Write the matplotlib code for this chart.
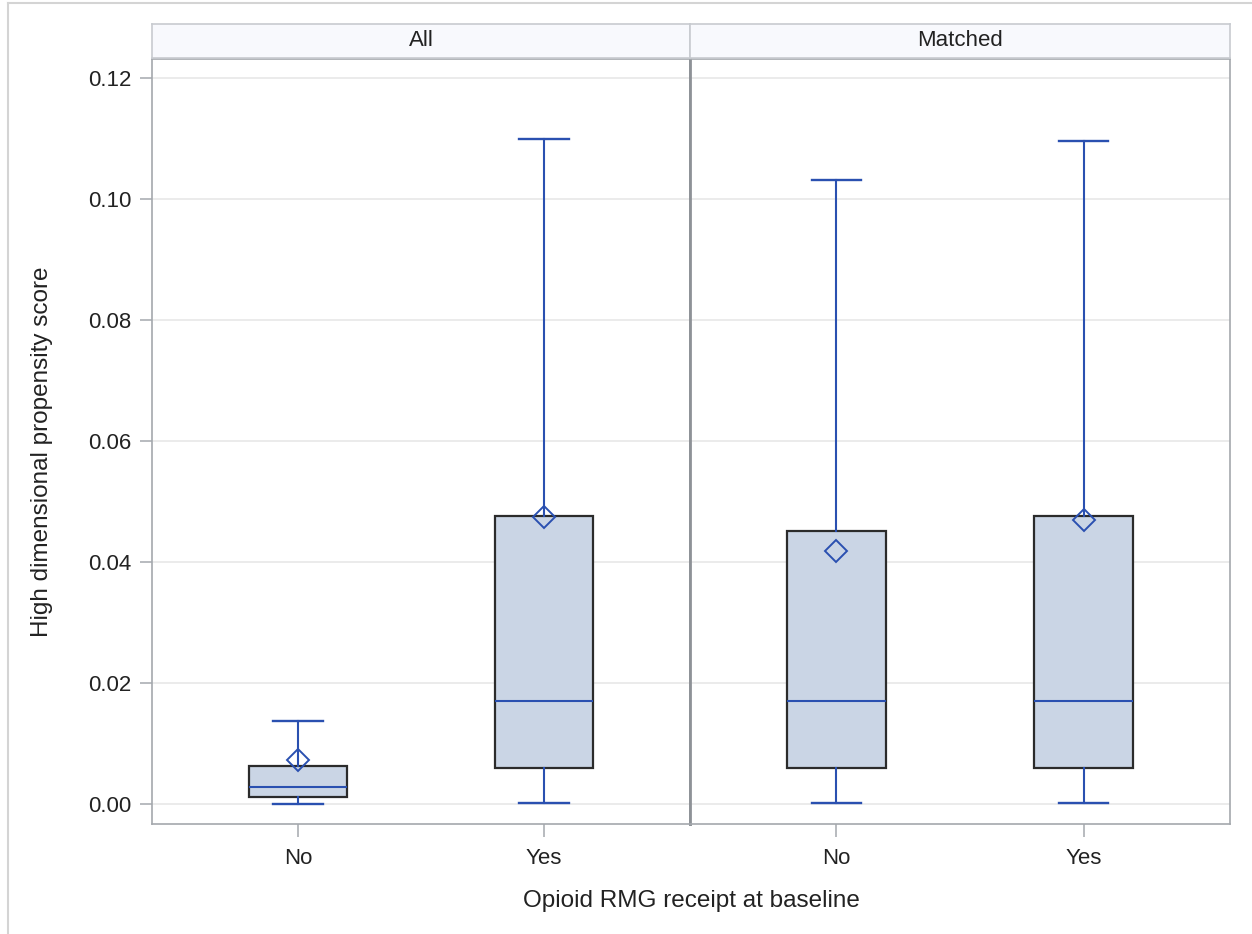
import matplotlib
matplotlib.use("Agg")
import matplotlib.pyplot as plt
from matplotlib.lines import Line2D

plt.rcParams['font.family'] = ['Liberation Sans', 'DejaVu Sans']

# box statistics per panel, categories No / Yes
panels = ["All", "Matched"]
categories = ["No", "Yes"]
q1 = {"All": [0.00116, 0.00600], "Matched": [0.00600, 0.00600]}
median = {"All": [0.00276, 0.01700], "Matched": [0.01700, 0.01700]}
q3 = {"All": [0.00620, 0.04760], "Matched": [0.04510, 0.04760]}
whisker_low = {"All": [0.00000, 0.00020], "Matched": [0.00020, 0.00020]}
whisker_high = {"All": [0.01370, 0.10990], "Matched": [0.10320, 0.10960]}
mean = {"All": [0.00730, 0.04740], "Matched": [0.04180, 0.04690]}
yticks = [0.00, 0.02, 0.04, 0.06, 0.08, 0.10, 0.12]

W, H = 1252, 934
fig = plt.figure(figsize=(W / 100, H / 100), dpi=100)

BLUE = "#2a50b0"
FILL = "#cad5e5"
FRAME = "#a4a8ad"
DIVIDER = "#8e9297"


def px_rect(x0, y0, x1, y1):
    return [x0 / W, 1 - y1 / H, (x1 - x0) / W, (y1 - y0) / H]


# outer frame of the graph
fig.add_artist(Line2D([8 / W, 8 / W], [0, 1 - 3 / H], color="#d4d4d4", lw=1.5))
fig.add_artist(Line2D([8 / W, 1], [1 - 3 / H, 1 - 3 / H], color="#d4d4d4", lw=1.5))

edges = [(152, 690), (690, 1230)]
axes = []
for i, name in enumerate(panels):
    x0, x1 = edges[i]
    ax = fig.add_axes(px_rect(x0, 59, x1, 824))
    axes.append(ax)

    stats = []
    for j, cat in enumerate(categories):
        stats.append(dict(med=median[name][j], q1=q1[name][j], q3=q3[name][j],
                          whislo=whisker_low[name][j], whishi=whisker_high[name][j],
                          mean=mean[name][j], fliers=[], label=cat))
    ax.bxp(stats, positions=[0, 1], widths=0.4, capwidths=0.2,
           showmeans=True, patch_artist=True, showfliers=False,
           boxprops=dict(facecolor=FILL, edgecolor="#2b2b2b", linewidth=1.6),
           medianprops=dict(color=BLUE, linewidth=1.5),
           whiskerprops=dict(color=BLUE, linewidth=1.5),
           capprops=dict(color=BLUE, linewidth=1.7),
           meanprops=dict(marker="D", markersize=11, markerfacecolor="none",
                          markeredgecolor=BLUE, markeredgewidth=1.4),
           zorder=3)

    ax.set_xlim(-0.593, 1.593)
    ax.set_ylim(-0.003306, 0.12314)
    ax.set_yticks(yticks)
    ax.grid(axis="y", color="#e6e6e6", linewidth=1.1, zorder=0)
    ax.set_axisbelow(True)
    ax.set_xticks([0, 1])
    ax.set_xticklabels(categories)
    ax.tick_params(axis="x", length=9, width=1.1, color=FRAME, labelsize=16,
                   labelcolor="#222222", pad=8)
    for s in ax.spines.values():
        s.set_color(FRAME)
        s.set_linewidth(1.2)

    if i == 0:
        ax.set_yticklabels([f"{v:.2f}" for v in yticks])
        ax.tick_params(axis="y", length=9, width=1.1, color=FRAME, labelsize=16,
                       labelcolor="#222222", pad=6)
        ax.spines["right"].set_color(DIVIDER)
        ax.spines["right"].set_linewidth(2)
    else:
        ax.tick_params(axis="y", length=0, labelleft=False)
        ax.spines["left"].set_color(DIVIDER)
        ax.spines["left"].set_linewidth(2)

    # panel header strip
    hx = fig.add_axes(px_rect(x0, 24, x1, 58))
    hx.set_facecolor("#f8f9fd")
    hx.set_xticks([])
    hx.set_yticks([])
    for s in hx.spines.values():
        s.set_color("#c8cbd0")
        s.set_linewidth(1.2)
    hx.text(0.5, 0.5, name, ha="center", va="center", fontsize=16, color="#222222",
            transform=hx.transAxes)

fig.text(42 / W, 1 - 452 / H, "High dimensional propensity score", rotation=90,
         ha="center", va="center", fontsize=17.5, color="#222222")
fig.text(691 / W, 1 - 901 / H, "Opioid RMG receipt at baseline",
         ha="center", va="center", fontsize=17.5, color="#222222")

fig.savefig("out.png", dpi=100, facecolor="white")
